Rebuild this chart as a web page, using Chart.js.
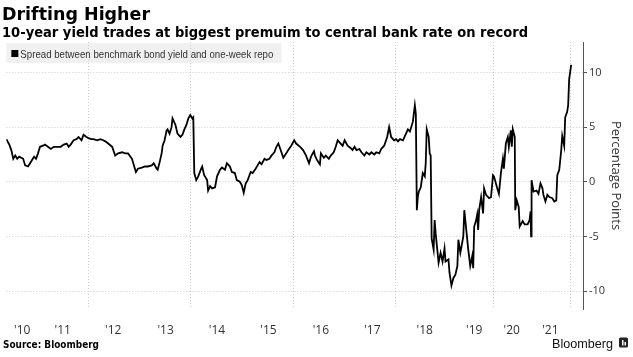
<!DOCTYPE html>
<html>
<head>
<meta charset="utf-8">
<script src="https://cdn.jsdelivr.net/npm/chart.js@4/dist/chart.umd.min.js"></script>
<style>
  html, body { margin: 0; padding: 0; background: #fff; }
  #wrap { width: 633px; height: 357px; position: relative; }
</style>
</head>
<body>
<div id="wrap"><canvas id="c" width="633" height="357"></canvas></div>
<script>
const titleText = 'Drifting Higher';
const subtitleText = '10-year yield trades at biggest premuim to central bank rate on record';
const seriesLabel = 'Spread between benchmark bond yield and one-week repo';
const yAxisTitle = 'Percentage Points';
const sourceText = 'Source: Bloomberg';
const brandText = 'Bloomberg';

// Spread (percentage points); x in decimal years of the chart's axis
const dates2010 = [2010.00,2010.06,2010.10,2010.14,2010.18,2010.22,2010.26,2010.34,2010.38,2010.44,2010.48,2010.52,2010.56,2010.60,2010.64,2010.68,2010.74,2010.78,2010.84,2010.90,2010.96,2011.04,2011.10,2011.16,2011.22,2011.26,2011.30,2011.36,2011.42,2011.46,2011.52,2011.56,2011.62,2011.66,2011.72,2011.76,2011.84,2011.90,2011.96,2012.00,2012.06,2012.14,2012.20,2012.26,2012.34,2012.40,2012.46,2012.54,2012.58,2012.62,2012.66,2012.74,2012.80,2012.86,2012.94,2012.98,2013.04,2013.06,2013.10,2013.14,2013.16,2013.20,2013.24,2013.26,2013.30,2013.34,2013.36,2013.42,2013.46,2013.52,2013.56,2013.60,2013.64,2013.68,2013.72,2013.76,2013.78];
const spread2010 = [3.9,3.4,2.9,2.1,2.4,2.1,2.3,2.1,1.5,1.4,1.7,2.0,2.3,2.1,2.6,3.2,3.3,3.4,3.2,3.0,3.2,3.2,3.2,3.4,3.5,3.2,3.4,3.8,3.9,4.1,3.8,4.3,4.1,4.0,3.9,3.9,3.8,3.9,3.8,3.7,3.5,3.2,2.4,2.6,2.7,2.6,2.6,2.1,1.5,0.9,1.2,1.3,1.4,1.4,1.5,1.7,1.2,1.1,1.8,2.6,3.3,3.8,4.7,4.8,4.4,5.0,5.8,5.2,4.4,4.1,4.3,4.8,5.2,5.8,6.1,5.8,5.9];

const dates2014 = [2013.80,2013.84,2013.88,2013.94,2013.96,2014.00,2014.06,2014.08,2014.12,2014.16,2014.22,2014.26,2014.32,2014.36,2014.42,2014.46,2014.52,2014.56,2014.62,2014.66,2014.72,2014.76,2014.80,2014.84,2014.88,2014.94,2014.98,2015.04,2015.08,2015.12,2015.16,2015.22,2015.26,2015.32,2015.36,2015.42,2015.46,2015.50,2015.54,2015.60,2015.66,2015.70,2015.76,2015.82,2015.86,2015.94,2016.00,2016.06,2016.12,2016.16,2016.22,2016.24,2016.28,2016.34,2016.36,2016.42,2016.46,2016.52,2016.56,2016.62,2016.66,2016.70,2016.76,2016.80,2016.84,2016.90,2016.96,2017.00,2017.04,2017.08,2017.14,2017.18,2017.24,2017.28,2017.34,2017.38,2017.44,2017.48,2017.54,2017.58,2017.64,2017.70,2017.74,2017.78,2017.84,2017.88,2017.92,2017.96,2018.02,2018.06,2018.12,2018.16,2018.22];
const spread2014 = [0.8,0.15,0.5,1.2,1.4,0.6,0.15,-0.8,-0.4,-0.6,-0.5,0.5,1.1,1.3,1.1,1.7,1.4,0.9,0.8,0.15,0.0,-0.3,-1.0,-0.15,0.15,0.9,0.8,1.2,1.5,1.8,1.6,2.1,2.0,2.1,2.4,2.7,3.2,3.5,3.0,2.2,2.6,2.9,3.3,3.8,3.5,3.2,2.9,2.4,1.7,2.3,2.8,2.4,2.0,1.6,2.6,2.2,2.4,2.1,2.4,2.7,3.2,3.8,3.5,3.3,3.8,3.3,3.1,2.9,3.2,2.9,3.0,2.7,2.4,2.7,2.5,2.7,2.5,2.7,2.6,3.0,3.3,4.1,5.0,4.1,3.8,3.9,3.7,3.9,3.8,4.2,4.8,4.6,5.5];

const dates2018 = [2018.26,2018.28,2018.30,2018.32,2018.34,2018.38,2018.42,2018.46,2018.48,2018.50,2018.54,2018.56,2018.58,2018.60,2018.64,2018.66,2018.68,2018.74,2018.78,2018.82,2018.86,2018.88,2018.94,2018.96,2019.00,2019.04,2019.08,2019.12,2019.14,2019.18,2019.24,2019.26,2019.30,2019.34,2019.38,2019.42,2019.44,2019.46,2019.50,2019.52,2019.54,2019.56,2019.60,2019.64,2019.66,2019.70,2019.76,2019.80,2019.84,2019.86,2019.92,2019.96,2020.00,2020.04,2020.06,2020.10,2020.14,2020.16,2020.20,2020.22,2020.24,2020.28,2020.29,2020.32,2020.36,2020.38,2020.44,2020.48,2020.54,2020.58,2020.60,2020.61,2020.62,2020.66,2020.72,2020.76,2020.80,2020.84,2020.86,2020.90,2020.94,2020.98,2021.04,2021.08,2021.12,2021.14,2021.18,2021.22,2021.24,2021.28,2021.30,2021.34,2021.36,2021.38,2021.40,2021.42];
const spread2018 = [7.0,6.2,-2.6,-1.4,-0.9,-0.5,0.8,0.5,1.7,4.8,4.1,2.6,2.4,-5.2,-6.2,-3.5,-4.7,-7.4,-6.5,-7.3,-6.1,-7.3,-7.1,-8.3,-9.5,-8.8,-8.5,-7.7,-5.3,-6.5,-5.0,-2.6,-4.4,-6.2,-7.7,-6.8,-7.9,-4.1,-3.5,-3.0,-4.4,-2.6,-1.4,-2.9,-0.6,-1.2,-1.5,-1.4,0.6,0.5,-0.5,-1.1,0.8,2.1,1.2,3.5,4.1,3.2,4.7,3.2,4.8,4.1,-2.6,-1.7,-2.3,-4.1,-3.6,-3.9,-3.9,-3.5,-2.7,-5.0,0.15,-0.9,-0.8,-1.1,-0.15,-0.6,-1.2,-1.8,-1.2,-1.4,-1.5,-1.8,-1.7,0.6,1.1,2.9,4.2,3.3,5.9,6.4,7.0,9.4,10.0,10.7];

// Axis ticks
const xTickLabels = ["'10","'11","'12","'13","'14","'15","'16","'17","'18","'19","'20","'21"];
const xTickPos = [2010.32,2011.14,2012.16,2013.22,2014.26,2015.30,2016.36,2017.40,2018.46,2019.46,2020.22,2021.00];
const xGridPos = [2011.66,2013.72,2015.80,2017.86,2019.86,2021.40];
const yTicks = [-10,-5,0,5,10];
const xMin = 2010.0, xMax = 2021.66;
const yMin = -11.64, yMax = 12.79;

const points = [];
[[dates2010, spread2010], [dates2014, spread2014], [dates2018, spread2018]].forEach(([d, s]) => {
  d.forEach((x, i) => points.push({ x: x, y: s[i] }));
});
const allXTicks = xTickPos.concat(xGridPos).sort((a, b) => a - b);

function fitText(ctx, text, x, y, font, width) {
  ctx.save();
  ctx.font = font;
  ctx.textBaseline = 'alphabetic';
  ctx.textAlign = 'left';
  const w = ctx.measureText(text).width;
  ctx.translate(x, y);
  ctx.scale(width / w, 1);
  ctx.fillText(text, 0, 0);
  ctx.restore();
}

const decor = {
  id: 'decor',
  beforeDraw(chart) {
    const ctx = chart.ctx;
    const a = chart.chartArea;
    ctx.save();
    ctx.fillStyle = '#f0f0f0';
    ctx.fillRect(a.left, a.top + 1, 275, 20);
    ctx.fillStyle = '#000';
    ctx.fillRect(a.left + 5, a.top + 8, 7, 7);
    ctx.fillStyle = '#333';
    fitText(ctx, chart.data.datasets[0].label, a.left + 14, a.top + 15.5,
      '11.5px "Liberation Sans Narrow", "Liberation Sans", sans-serif', 253);
    ctx.restore();
  },
  afterDraw(chart) {
    const ctx = chart.ctx;
    ctx.save();
    ctx.fillStyle = '#000';
    fitText(ctx, titleText, 2, 19.5, 'bold 17.5px "DejaVu Sans", sans-serif', 148);
    fitText(ctx, subtitleText, 2, 36.5, 'bold 13.5px "DejaVu Sans", sans-serif', 526);
    fitText(ctx, sourceText, 3, 347.5, 'bold 10px "DejaVu Sans", sans-serif', 96);
    ctx.fillStyle = '#111';
    fitText(ctx, brandText, 552, 347.5, '13px "Liberation Sans", sans-serif', 61);
    ctx.fillStyle = '#222';
    ctx.beginPath();
    ctx.roundRect ? ctx.roundRect(619, 337.5, 9, 10, 1.5) : ctx.rect(619, 337.5, 9, 10);
    ctx.fill();
    ctx.fillStyle = '#fff';
    ctx.fillRect(622, 340, 1.5, 5.5);
    ctx.fillRect(624.5, 342, 1.5, 3.5);
    ctx.restore();
  }
};

new Chart(document.getElementById('c').getContext('2d'), {
  type: 'line',
  data: {
    datasets: [{
      label: seriesLabel,
      data: points,
      borderColor: '#000',
      borderWidth: 1.8,
      pointRadius: 0,
      tension: 0,
      fill: false
    }]
  },
  options: {
    responsive: false,
    animation: false,
    devicePixelRatio: 1,
    layout: { padding: { top: 42, left: 0, right: 0, bottom: 0 } },
    plugins: { legend: { display: false }, tooltip: { enabled: false }, title: { display: false } },
    scales: {
      x: {
        type: 'linear',
        min: xMin,
        max: xMax,
        afterBuildTicks: s => { s.ticks = allXTicks.map(v => ({ value: v })); },
        afterFit: s => { s.height = 48; },
        ticks: {
          autoSkip: false, maxRotation: 0, minRotation: 0, padding: 14,
          font: { family: '"Open Sans", sans-serif', size: 12 }, color: '#333',
          callback: v => { const i = xTickPos.indexOf(v); return i >= 0 ? xTickLabels[i] : ''; }
        },
        grid: {
          drawTicks: false,
          color: c => (c.tick && xGridPos.includes(c.tick.value)) ? '#cccccc' : 'rgba(0,0,0,0)',
          lineWidth: 1
        },
        border: { display: false, dash: [1, 2] }
      },
      y: {
        position: 'right',
        min: yMin,
        max: yMax,
        afterBuildTicks: s => { s.ticks = yTicks.map(v => ({ value: v })); },
        afterFit: s => { s.width = 50; },
        ticks: { padding: 2, font: { family: '"Open Sans", sans-serif', size: 11 }, color: '#333' },
        grid: { color: '#cccccc', tickColor: '#555', tickLength: 4, tickBorderDash: [] },
        border: { display: true, color: '#555', width: 1, dash: [1, 2] },
        title: {
          display: true, text: yAxisTitle, color: '#333',
          font: { family: '"Open Sans", sans-serif', size: 13 },
          padding: { top: 9, bottom: 0 }
        }
      }
    }
  },
  plugins: [decor]
});
</script>
</body>
</html>
